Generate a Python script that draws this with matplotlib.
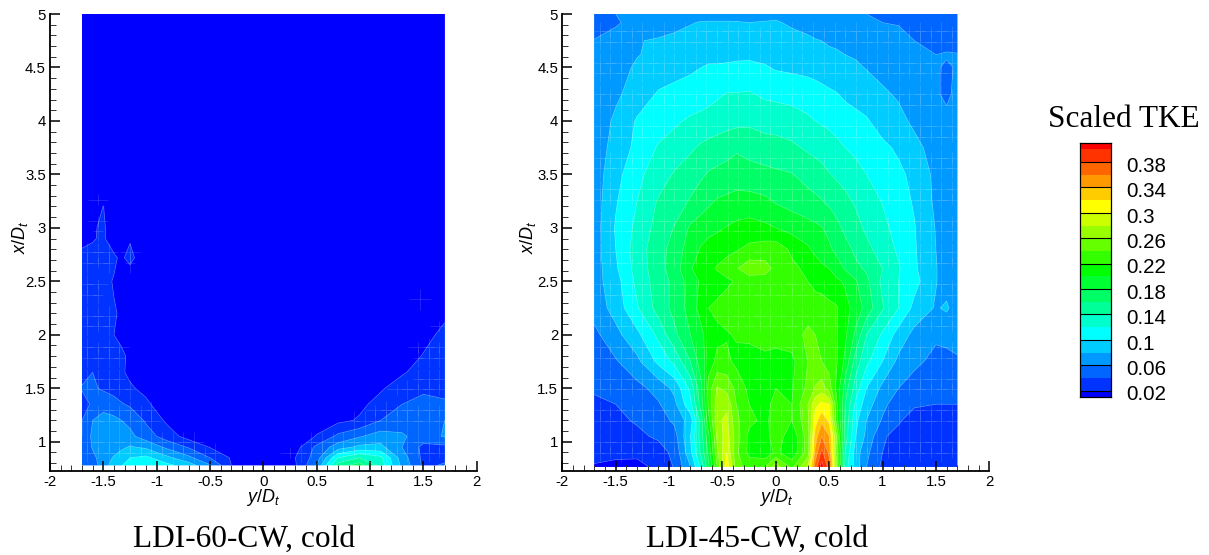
import numpy as np
import matplotlib
matplotlib.use("Agg")
import matplotlib.pyplot as plt
from matplotlib.collections import LineCollection
from matplotlib.ticker import MultipleLocator, FormatStrFormatter

plt.rcParams['font.family'] = ['Liberation Sans', 'DejaVu Sans']
plt.rcParams['axes.unicode_minus'] = False
plt.rcParams['mathtext.fontset'] = 'custom'
plt.rcParams['mathtext.it'] = 'Liberation Sans:italic'
plt.rcParams['mathtext.rm'] = 'Liberation Sans'

W, H = 1209, 555

band_colors = ['#0000ff', '#0033ff', '#0066ff', '#0099ff', '#00ccff', '#00ffff', '#00ffcc',
               '#00ff99', '#00ff66', '#00ff33', '#00ff00', '#33ff00', '#66ff00', '#99ff00',
               '#ccff00', '#ffff00', '#ffcc00', '#ff9900', '#ff6600', '#ff3300', '#ff0000']
legend_ticks = [0.02, 0.06, 0.1, 0.14, 0.18, 0.22, 0.26, 0.3, 0.34, 0.38]
legend_labels = ['0.02', '0.06', '0.1', '0.14', '0.18', '0.22', '0.26', '0.3', '0.34', '0.38']
level_values = [0.02, 0.04, 0.06, 0.08, 0.10, 0.12, 0.14, 0.16, 0.18, 0.20,
                0.22, 0.24, 0.26, 0.28, 0.30, 0.32, 0.34, 0.36, 0.38, 0.40]

left_y = [-1.7, -1.6, -1.5, -1.4, -1.33, -1.25, -1.1, -0.9, -0.7, -0.5, -0.3, 0, 0.1, 0.3, 0.5, 0.7, 0.9, 1.1, 1.3, 1.5, 1.7]
left_x = [0.78, 0.85, 0.95, 1.05, 1.2, 1.35, 1.5, 1.65, 1.8, 2, 2.2, 2.5, 2.72, 2.9, 3.0, 3.2, 3.4, 5]
left_tke = [
 [.045,.05,.07,.09,.098,.118,.115,.105,.09,.062,.02,.015,.016,.018,.06,.15,.17,.13,.075,.036,.042],
 [.045,.055,.07,.082,.09,.10,.105,.085,.065,.04,.018,.012,.018,.02,.05,.12,.14,.125,.07,.035,.036],
 [.042,.062,.068,.072,.076,.082,.076,.055,.038,.019,.01,.005,.006,.012,.045,.07,.085,.085,.06,.035,.035],
 [.04,.065,.062,.068,.066,.065,.05,.03,.012,.01,.007,.004,.004,.01,.021,.045,.058,.07,.063,.05,.062],
 [.04,.06,.07,.065,.06,.055,.037,.016,.008,.006,.005,.003,.003,.005,.013,.015,.022,.04,.05,.055,.06],
 [.035,.042,.05,.047,.042,.037,.023,.01,.006,.004,.003,.002,.002,.003,.005,.012,.016,.026,.04,.045,.044],
 [.041,.042,.038,.033,.028,.022,.016,.009,.005,.003,.002,.002,.002,.002,.003,.006,.01,.018,.028,.037,.032],
 [.036,.04,.032,.026,.022,.017,.01,.006,.004,.002,.002,.002,.002,.002,.002,.003,.005,.011,.018,.027,.03],
 [.03,.03,.027,.024,.022,.018,.008,.004,.003,.002,.002,.002,.002,.002,.002,.002,.003,.006,.012,.021,.028],
 [.03,.03,.026,.02,.0175,.012,.005,.003,.002,.002,.002,.002,.002,.002,.002,.002,.002,.003,.006,.015,.024],
 [.03,.028,.025,.021,.0185,.012,.004,.003,.002,.002,.002,.002,.002,.002,.002,.002,.002,.002,.004,.006,.017],
 [.028,.027,.024,.019,.017,.006,.004,.003,.002,.002,.002,.002,.002,.002,.002,.002,.002,.002,.003,.008,.008],
 [.024,.024,.023,.0225,.017,.026,.005,.003,.002,.002,.002,.002,.002,.002,.002,.002,.002,.002,.003,.004,.004],
 [.016,.019,.022,.012,.011,.018,.003,.002,.002,.002,.002,.002,.002,.002,.002,.002,.002,.002,.002,.003,.003],
 [.008,.018,.023,.008,.006,.005,.003,.002,.002,.002,.002,.002,.002,.002,.002,.002,.002,.002,.002,.002,.002],
 [.004,.006,.0205,.004,.004,.004,.002,.002,.002,.002,.002,.002,.002,.002,.002,.002,.002,.002,.002,.002,.002],
 [.004,.004,.004,.004,.003,.003,.002,.002,.002,.002,.002,.002,.002,.002,.002,.002,.002,.002,.002,.002,.002],
 [.004,.004,.004,.004,.003,.003,.002,.002,.002,.002,.002,.002,.002,.002,.002,.002,.002,.002,.002,.002,.002],
]

right_y = [-1.7, -1.5, -1.3, -1.1, -0.95, -0.8, -0.7, -0.63, -0.55, -0.46, -0.37, -0.25, -0.1, 0, 0.15, 0.3,
           0.37, 0.43, 0.5, 0.57, 0.65, 0.75, 0.85, 1, 1.15, 1.3, 1.5, 1.6, 1.7]
right_x = [0.765, 0.9, 1.05, 1.2, 1.35, 1.5, 1.75, 2, 2.25, 2.5, 2.62, 2.8, 3, 3.25, 3.5, 3.75, 4, 4.25, 4.5, 4.62, 4.75, 4.92, 5]
right_tke = [
 [.018,.012,.008,.03,.041,.08,.125,.175,.24,.315,.25,.23,.24,.27,.235,.28,.37,.41,.37,.26,.13,.09,.06,.036,.03,.03,.03,.03,.03],
 [.027,.028,.03,.032,.045,.095,.145,.185,.255,.30,.245,.215,.205,.225,.205,.25,.345,.385,.355,.25,.14,.09,.065,.04,.03,.03,.03,.03,.03],
 [.03,.032,.036,.043,.052,.10,.15,.195,.265,.29,.25,.215,.21,.235,.205,.25,.33,.36,.34,.26,.15,.10,.075,.042,.035,.03,.03,.03,.03],
 [.033,.036,.042,.05,.064,.09,.15,.215,.275,.285,.245,.225,.215,.23,.22,.255,.31,.335,.315,.23,.155,.105,.08,.058,.042,.033,.03,.032,.034],
 [.037,.04,.047,.058,.075,.115,.17,.225,.27,.275,.24,.22,.215,.225,.22,.26,.295,.305,.30,.225,.16,.115,.09,.065,.05,.042,.04,.04,.04],
 [.042,.048,.054,.067,.085,.125,.175,.228,.262,.255,.235,.215,.215,.22,.218,.245,.262,.27,.25,.215,.17,.13,.10,.075,.06,.052,.048,.047,.046],
 [.05,.058,.075,.105,.125,.16,.19,.21,.225,.225,.215,.21,.215,.215,.215,.24,.245,.24,.232,.222,.195,.15,.125,.10,.075,.064,.055,.056,.058],
 [.055,.074,.095,.125,.155,.18,.195,.21,.215,.218,.222,.225,.228,.225,.23,.245,.24,.235,.23,.222,.204,.175,.14,.117,.092,.074,.063,.064,.066],
 [.068,.088,.118,.148,.166,.188,.208,.22,.225,.23,.232,.24,.236,.23,.23,.23,.228,.228,.225,.222,.207,.192,.172,.142,.12,.094,.078,.083,.07],
 [.072,.092,.125,.15,.165,.19,.203,.207,.21,.216,.222,.23,.232,.23,.228,.22,.215,.213,.208,.204,.197,.182,.165,.135,.12,.107,.081,.072,.072],
 [.07,.097,.128,.152,.17,.198,.21,.215,.222,.23,.238,.252,.247,.235,.225,.215,.21,.204,.20,.19,.178,.165,.157,.14,.122,.103,.081,.072,.071],
 [.071,.10,.13,.152,.168,.19,.202,.207,.21,.213,.218,.225,.23,.232,.216,.203,.195,.19,.183,.175,.168,.155,.146,.13,.117,.102,.08,.072,.07],
 [.07,.102,.125,.148,.161,.183,.19,.194,.197,.201,.205,.208,.204,.20,.193,.187,.184,.181,.175,.166,.155,.147,.136,.125,.113,.101,.079,.072,.07],
 [.07,.098,.12,.142,.15,.162,.17,.176,.182,.184,.186,.187,.184,.178,.172,.167,.164,.161,.156,.15,.145,.137,.13,.119,.108,.098,.076,.07,.068],
 [.07,.093,.115,.13,.142,.15,.157,.162,.165,.168,.171,.168,.165,.163,.161,.153,.15,.147,.141,.137,.133,.126,.12,.113,.104,.095,.075,.07,.068],
 [.068,.088,.105,.122,.128,.137,.143,.146,.149,.152,.157,.153,.15,.149,.144,.137,.134,.131,.128,.125,.12,.116,.111,.104,.097,.087,.07,.067,.066],
 [.066,.084,.102,.11,.117,.123,.126,.128,.13,.133,.134,.136,.131,.13,.128,.123,.12,.118,.116,.112,.108,.105,.102,.092,.087,.075,.066,.064,.065],
 [.064,.076,.09,.102,.105,.108,.11,.113,.117,.121,.121,.122,.117,.116,.114,.111,.109,.106,.103,.101,.097,.094,.09,.084,.077,.07,.062,.057,.064],
 [.062,.072,.083,.09,.094,.097,.10,.102,.102,.103,.104,.105,.102,.098,.096,.094,.092,.091,.09,.088,.085,.083,.079,.072,.068,.063,.061,.0585,.061],
 [.061,.069,.079,.085,.088,.091,.093,.095,.095,.095,.096,.096,.094,.091,.09,.088,.086,.084,.083,.082,.08,.078,.075,.072,.067,.062,.06,.061,.0605],
 [.061,.066,.079,.082,.084,.086,.088,.089,.09,.09,.09,.09,.09,.09,.087,.083,.081,.08,.078,.077,.075,.072,.069,.067,.065,.06,.055,.056,.056],
 [.05,.058,.066,.07,.075,.079,.081,.081,.081,.081,.081,.08,.081,.082,.077,.074,.072,.071,.07,.069,.067,.065,.062,.06,.059,.052,.048,.048,.048],
 [.045,.06,.066,.069,.071,.073,.074,.075,.075,.075,.074,.074,.075,.075,.073,.071,.069,.068,.067,.066,.065,.062,.06,.056,.052,.046,.045,.045,.045],
]

ylim_low = 0.726
left_extra_mesh = [(1.47, 2.33)]


def px_axes(fig, x0, x1, y0, y1):
    return fig.add_axes([x0 / W, 1 - y1 / H, (x1 - x0) / W, (y1 - y0) / H])


def mesh_segments(yv, xv, z, threshold, extra=()):
    yv, xv = np.asarray(yv), np.asarray(xv)
    segs = []
    for i, gx in enumerate(np.arange(0.8, 5.0, 0.0985)):
        for j, gy in enumerate(np.arange(-1.65, 1.7, 0.1)):
            if (i * 5 + j * 3) % 3 == 0:
                continue
            a = np.abs(xv - gx).argmin()
            b = np.abs(yv - gy).argmin()
            if z[a, b] < threshold:
                continue
            h = 0.05 if (i + j) % 2 else 0.09
            v = 0.05 if (i * j) % 2 else 0.09
            segs.append([(gy - h, gx), (gy + h, gx)])
            segs.append([(gy, gx - v), (gy, gx + v)])
    for gy, gx in extra:
        segs.append([(gy - 0.1, gx), (gy + 0.1, gx)])
        segs.append([(gy, gx - 0.1), (gy, gx + 0.1)])
    return segs


def panel(fig, rect, yv, xv, tke, threshold, extra=()):
    ax = px_axes(fig, *rect)
    z = np.array(tke, dtype=float)
    levels = [-1.0] + level_values + [1.0]
    ax.contourf(yv, xv, z, levels=levels, colors=band_colors, antialiased=True)
    ax.contourf(yv, xv, z, levels=levels, colors=band_colors, antialiased=True)
    ax.contour(yv, xv, z, levels=level_values, colors='white', linewidths=0.5, alpha=0.3)
    ax.add_collection(LineCollection(mesh_segments(yv, xv, z, threshold, extra),
                                     colors='white', linewidths=0.6, alpha=0.15))
    ax.set_xlim(-2, 2)
    ax.set_ylim(ylim_low, 5)
    for s in ('top', 'right'):
        ax.spines[s].set_visible(False)
    for s in ('left', 'bottom'):
        ax.spines[s].set_linewidth(1.3)
    ax.xaxis.set_major_locator(MultipleLocator(0.5))
    ax.xaxis.set_minor_locator(MultipleLocator(0.1))
    ax.yaxis.set_major_locator(MultipleLocator(0.5))
    ax.yaxis.set_minor_locator(MultipleLocator(0.1))
    ax.xaxis.set_major_formatter(FormatStrFormatter('%g'))
    ax.yaxis.set_major_formatter(FormatStrFormatter('%g'))
    ax.tick_params(which='major', direction='in', length=7.2, width=1.1, labelsize=10.8, pad=3)
    ax.tick_params(which='minor', direction='in', length=4.2, width=0.7, color='#333333')
    ax.tick_params(axis='y', which='major', pad=3)
    ax.patch.set_alpha(0)
    return ax


fig = plt.figure(figsize=(W / 100, H / 100), dpi=100)

panel(fig, (50, 476.7, 14, 471), left_y, left_x, left_tke, 0.02, left_extra_mesh)
panel(fig, (562.3, 989.3, 14, 471), right_y, right_x, right_tke, 0.0)

for cx, cy, s, rot in [(263, 498, r'$y/D_t$', 0), (775.5, 498, r'$y/D_t$', 0),
                       (20, 237, r'$x/D_t$', 90), (528, 237, r'$x/D_t$', 90)]:
    fig.text(cx / W, 1 - cy / H, s, ha='center', va='center', rotation=rot, fontsize=13)

for cx, s in [(244, 'LDI-60-CW, cold'), (756.7, 'LDI-45-CW, cold')]:
    fig.text(cx / W, 1 - 539.5 / H, s, ha='center', va='center', fontsize=22.6,
             family=['Liberation Serif', 'DejaVu Serif'])
fig.text(1124 / W, 1 - 119.5 / H, 'Scaled TKE', ha='center', va='center', fontsize=22.5,
         family=['Liberation Serif', 'DejaVu Serif'])

# legend
lax = px_axes(fig, 1079.5, 1111, 143, 397)
edges = [0.01] + level_values + [0.41]
vals = np.arange(len(band_colors)).reshape(-1, 1)
lax.pcolormesh([0, 1], edges, vals, cmap=matplotlib.colors.ListedColormap(band_colors), shading='flat')
lax.hlines(legend_ticks, 0, 1, colors='black', linewidth=0.8)
lax.set_xlim(0, 1)
lax.set_ylim(0.01, 0.41)
lax.set_xticks([])
lax.set_yticks([])
for s in lax.spines.values():
    s.set_linewidth(0.9)
for v, t in zip(legend_ticks, legend_labels):
    lax.annotate(t, xy=(1, v), xycoords=('axes fraction', 'data'), xytext=(11.2, -3),
                 textcoords='offset points', ha='left', va='center', fontsize=14.8)

fig.savefig('out.png', dpi=100)
